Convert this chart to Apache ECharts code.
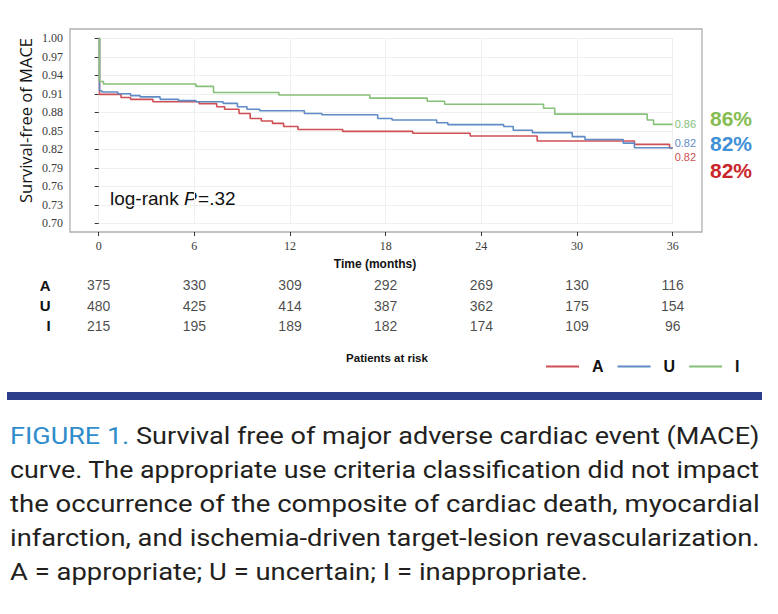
<!DOCTYPE html>
<html>
<head>
<meta charset="utf-8">
<script src="https://cdn.jsdelivr.net/npm/echarts@6/dist/echarts.min.js"></script>
<style>
html,body{margin:0;padding:0;background:#fff;}
#c{width:778px;height:614px;}
</style>
</head>
<body>
<div id="c"></div>
<script>
// ---------------- DATA ----------------
const months = [0, 6, 12, 18, 24, 30, 36];
const groups = ['A', 'U', 'I'];
const riskA = [375, 330, 309, 292, 269, 130, 116];
const riskU = [480, 425, 414, 387, 362, 175, 154];
const riskI = [215, 195, 189, 182, 174, 109, 96];

const timeA = [0, 0.05, 1.4, 2.0, 3.4, 6.3, 7.4, 7.9, 8.8, 9.5, 10.2, 10.9, 11.6, 12.5, 15.3, 19.7, 23.3, 27.5, 33.6, 35.8, 36];
const survA = [1.00, 0.909, 0.904, 0.901, 0.897, 0.894, 0.889, 0.885, 0.878, 0.870, 0.866, 0.862, 0.857, 0.852, 0.849, 0.846, 0.8415, 0.8335, 0.828, 0.822, 0.822];

const timeU = [0, 0.05, 0.2, 1.2, 2.0, 2.6, 3.85, 5.0, 6.1, 7.8, 8.7, 9.3, 10.1, 12.9, 14.0, 17.5, 18.4, 21.2, 21.9, 25.4, 26.0, 27.2, 29.7, 30.5, 32.9, 33.6, 36];
const survU = [1.00, 0.915, 0.913, 0.910, 0.907, 0.905, 0.901, 0.899, 0.897, 0.8945, 0.889, 0.885, 0.8825, 0.878, 0.876, 0.870, 0.8675, 0.863, 0.860, 0.857, 0.851, 0.847, 0.8405, 0.836, 0.830, 0.8225, 0.8225];

const timeI = [0, 0.05, 0.3, 6.1, 7.2, 11.3, 17.0, 20.6, 21.7, 27.9, 28.6, 34.4, 34.8, 36];
const survI = [1.00, 0.930, 0.926, 0.922, 0.912, 0.908, 0.903, 0.898, 0.893, 0.8865, 0.877, 0.8675, 0.8605, 0.8605];

const finalPct = ['86%', '82%', '82%'];   // I, U, A
const pValueText = '.32';

const captionLines = [
  'FIGURE 1. Survival free of major adverse cardiac event (MACE)',
  'curve. The appropriate use criteria classification did not impact',
  'the occurrence of the composite of cardiac death, myocardial',
  'infarction, and ischemia-driven target-lesion revascularization.',
  'A = appropriate; U = uncertain; I = inappropriate.'
];

// ---------------- STYLE ----------------
const colA = '#cf4f55', colU = '#5f8cc6', colI = '#86c079';
const pctColors = ['#86bd52', '#3f90d4', '#c9262c'];
const serif = '"Liberation Serif", "DejaVu Serif", serif';
const sans = '"Liberation Sans", Arial, sans-serif';
const soft = '"Open Sans", "Liberation Sans", sans-serif';
const capFamily = '"Roboto", "Liberation Sans", sans-serif';
const capSize = 24;

const chart = echarts.init(document.getElementById('c'), null, {renderer: 'svg'});

function curve(name, t, s, color, off) {
  return {
    type: 'line', name: name, xAxisIndex: 1, yAxisIndex: 1,
    data: t.map((x, i) => [x, s[i]]),
    step: 'end', showSymbol: false, symbol: 'none',
    lineStyle: {color: color, width: 1.6},
    itemStyle: {color: color},
    endLabel: {show: true, formatter: p => p.value[1].toFixed(2), color: color,
      fontSize: 11, fontFamily: sans, distance: 2, offset: off},
    silent: true
  };
}

const riskAll = [riskA, riskU, riskI];
const riskSeries = groups.map((g, gi) => ({
  type: 'scatter', name: g + ' at risk', xAxisIndex: 2, yAxisIndex: 2,
  symbolSize: 1, itemStyle: {color: 'transparent'}, silent: true,
  label: {show: true, position: 'inside', formatter: p => String(p.value[2]),
    color: '#1a1a1a', fontSize: 14, fontFamily: sans},
  data: months.map((m, i) => [m, g, riskAll[gi][i]])
}));

// text measuring helper
const cv = document.createElement('canvas').getContext('2d');
function measure(txt, font) { cv.font = font; return cv.measureText(txt).width; }

// caption: each justified line fitted to the column width
const capFont = capSize + 'px ' + capFamily;
const capY = [435.5, 469.5, 503.5, 537.5, 571.5];
const captionGraphics = captionLines.map((line, i) => {
  const last = i === captionLines.length - 1;
  const sc = (last ? 578 : 750) / measure(line, capFont);
  let text = line, rich;
  if (i === 0) {
    text = '{b|FIGURE 1.}' + line.slice('FIGURE 1.'.length);
    rich = {b: {fill: '#2f8dcc', fontSize: capSize, fontFamily: capFamily}};
  }
  return {
    type: 'text', x: 10, y: capY[i], scaleX: sc, silent: true,
    style: {text: text, rich: rich, fill: '#231f20', fontSize: capSize, fontFamily: capFamily,
      align: 'left', verticalAlign: 'middle'}
  };
});

// log-rank annotation, pieces placed one after another
const lrSize = 19;
const lrParts = [
  {t: 'log-rank ', italic: false},
  {t: 'P', italic: true},
  {t: '=' + pValueText, italic: false}
];
let lrX = 110;
const lrGraphics = lrParts.map(p => {
  const font = (p.italic ? 'italic ' : '') + lrSize + 'px ' + sans;
  const el = {type: 'text', x: lrX, y: 198.5, silent: true,
    style: {text: p.t, fill: '#111', fontSize: lrSize, fontFamily: sans,
      fontStyle: p.italic ? 'italic' : 'normal', align: 'left', verticalAlign: 'middle'}};
  lrX += measure(p.t, font) + (p.italic ? 1.5 : 0);
  return el;
});

const pctY = [118.5, 143.5, 170];
const pctGraphics = finalPct.map((p, i) => ({
  type: 'text', x: 710, y: pctY[i], silent: true,
  style: {text: p, fill: pctColors[i], fontSize: 21, fontWeight: 'bold', fontFamily: sans,
    align: 'left', verticalAlign: 'middle'}
}));

const option = {
  animation: false,
  backgroundColor: '#ffffff',
  grid: [
    {left: 70, right: 76, top: 29, bottom: 382, show: true, borderColor: '#b0b0b0', borderWidth: 1.3, backgroundColor: 'transparent'},
    {left: 98.7, right: 105.3, top: 38.3, bottom: 390.7},
    {left: 98.7, right: 105.3, top: 275.4, height: 60.5}
  ],
  xAxis: [
    {gridIndex: 0, type: 'value', show: false, min: 0, max: 1},
    {gridIndex: 1, type: 'value', min: 0, max: 36, interval: 6, offset: 8.7,
      axisLine: {show: false},
      axisTick: {show: true, length: 4, lineStyle: {color: '#333', width: 1}},
      axisLabel: {fontFamily: serif, fontSize: 12, color: '#3a3a3a', margin: 8},
      splitLine: {show: true, lineStyle: {color: '#efefef', width: 1}}},
    {gridIndex: 2, type: 'value', show: false, min: 0, max: 36}
  ],
  yAxis: [
    {gridIndex: 0, type: 'value', show: false, min: 0, max: 1},
    {gridIndex: 1, type: 'value', min: 0.70, max: 1.00, interval: 0.03, offset: 28.7,
      axisLine: {show: false},
      axisTick: {show: true, length: 4, lineStyle: {color: '#333', width: 1}},
      axisLabel: {fontFamily: serif, fontSize: 12, color: '#3a3a3a', margin: 7,
        formatter: v => v.toFixed(2)},
      splitLine: {show: true, lineStyle: {color: '#efefef', width: 1}}},
    {gridIndex: 2, type: 'category', data: groups, inverse: true,
      axisLine: {show: false}, axisTick: {show: false}, splitLine: {show: false},
      axisLabel: {fontWeight: 'bold', fontSize: 15, color: '#111', margin: 48, fontFamily: sans}}
  ],
  legend: {
    data: ['A', 'U', 'I'], left: 546, top: 358.5, padding: 0,
    icon: 'rect', itemWidth: 33, itemHeight: 2, itemGap: 14,
    textStyle: {fontWeight: 'bold', fontSize: 16, color: '#111', fontFamily: sans, padding: [0, 0, 0, 8]},
    selectedMode: false
  },
  series: [
    curve('A', timeA, survA, colA, [0, 8.5]),
    curve('U', timeU, survU, colU, [0, -5]),
    curve('I', timeI, survI, colI, [0, 0])
  ].concat(riskSeries),
  graphic: [
    {type: 'text', x: 25, y: 120.5, rotation: Math.PI / 2, silent: true,
      style: {text: 'Survival-free of MACE', fill: '#141414', fontSize: 16.5, fontFamily: soft,
        align: 'center', verticalAlign: 'middle'}},
    {type: 'text', x: 375, y: 264, silent: true,
      style: {text: 'Time (months)', fill: '#111', fontSize: 12, fontWeight: 'bold', fontFamily: sans,
        align: 'center', verticalAlign: 'middle'}},
    {type: 'text', x: 387, y: 357.5, silent: true,
      style: {text: 'Patients at risk', fill: '#111', fontSize: 11.5, fontWeight: 'bold', fontFamily: sans,
        align: 'center', verticalAlign: 'middle'}},
    {type: 'rect', silent: true, shape: {x: 7, y: 392, width: 755, height: 8},
      style: {fill: '#2c3e8a'}}
  ].concat(lrGraphics, pctGraphics, captionGraphics)
};

chart.setOption(option);
</script>
</body>
</html>
